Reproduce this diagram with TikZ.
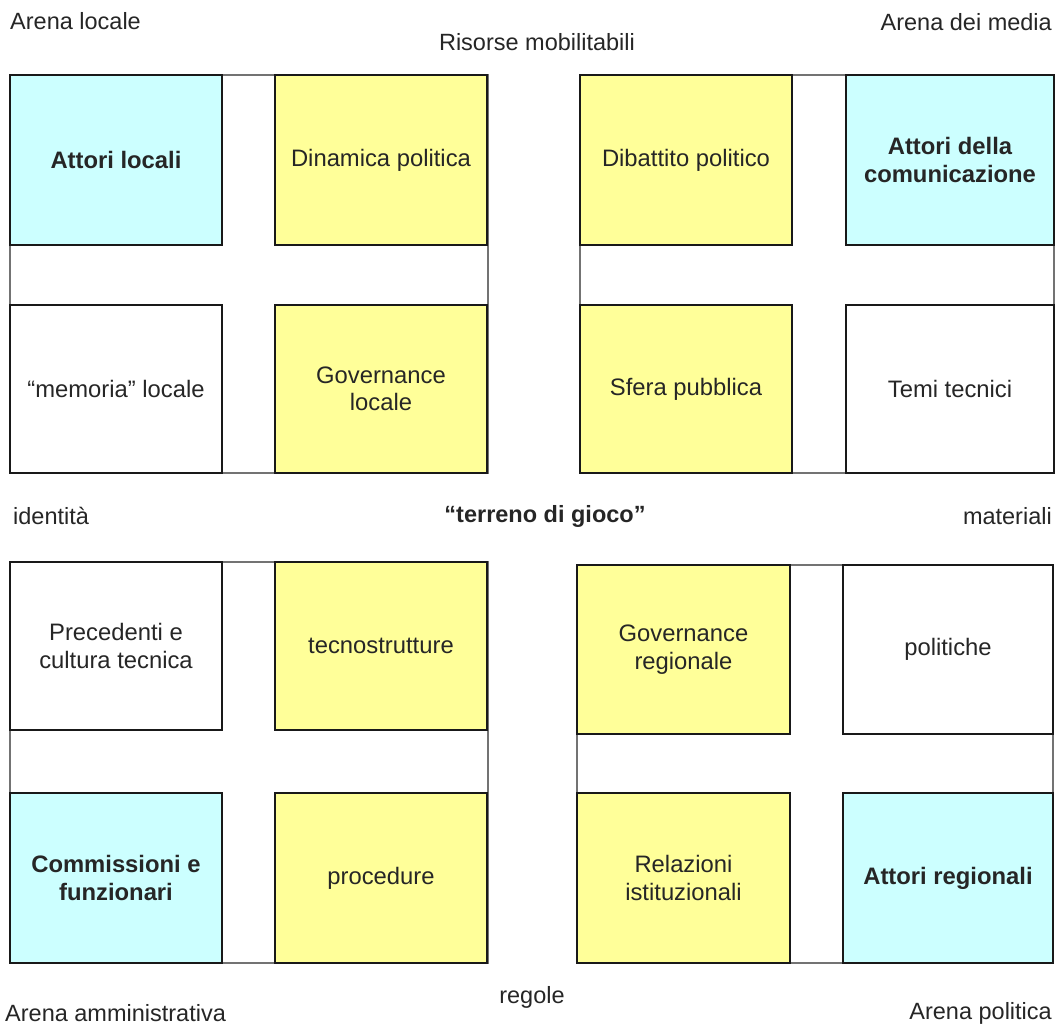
\documentclass[tikz,border=0pt]{standalone}
\usepackage{fontspec}
\setmainfont{Liberation Sans}
\definecolor{cyanbox}{HTML}{CCFFFF}
\definecolor{yellowbox}{HTML}{FFFF99}
\definecolor{txt}{HTML}{262626}
\begin{document}
\begin{tikzpicture}[x=1pt,y=-1pt,
  frame/.style={draw=black!55, line width=1.3pt, rectangle, inner sep=0pt},
  box/.style={draw=black!90, line width=2.8pt, rectangle, inner sep=0pt,
    minimum width=212pt, minimum height=170pt, align=center,
    font=\fontsize{23.8}{27.5}\selectfont, text=txt},
  actor/.style={box, fill=cyanbox, font=\fontsize{23.8}{27.5}\selectfont\bfseries},
  arena/.style={box, fill=yellowbox},
  plain/.style={box, fill=white},
  lbl/.style={inner sep=0pt, font=\fontsize{23.5}{28}\selectfont, text=txt}
]
\useasboundingbox (0,0) rectangle (1058,1027);
\fill[white] (0,0) rectangle (1058,1027);

% quadrant frames
\node[frame, minimum width=478pt, minimum height=398pt] (qa) at (249,274) {};
\node[frame, minimum width=474pt, minimum height=398pt] (qb) at (817,274) {};
\node[frame, minimum width=478pt, minimum height=401pt] (qc) at (249,762.5) {};
\node[frame, minimum width=476pt, minimum height=398pt] (qd) at (815,764) {};

% top-left quadrant
\node[actor] (a1) at (116,160) {Attori locali};
\node[arena] (a2) at (381,160) {Dinamica politica};
\node[plain, minimum height=168pt] (a3) at (116,389) {“memoria” locale};
\node[arena, minimum height=168pt] (a4) at (381,389) {Governance\\locale};

% top-right quadrant
\node[arena] (b1) at (686,160) {Dibattito politico};
\node[actor, minimum width=208pt] (b2) at (950,160) {Attori della\\comunicazione};
\node[arena, minimum height=168pt] (b3) at (686,389) {Sfera pubblica};
\node[plain, minimum width=208pt, minimum height=168pt] (b4) at (950,389) {Temi tecnici};

% bottom-left quadrant
\node[plain, minimum height=168pt] (c1) at (116,646) {Precedenti e\\cultura tecnica};
\node[arena, minimum height=168pt] (c2) at (381,646) {tecnostrutture};
\node[actor] (c3) at (116,878) {Commissioni e\\funzionari};
\node[arena] (c4) at (381,878) {procedure};

% bottom-right quadrant
\node[arena, minimum width=213pt, minimum height=169pt] (d1) at (683.5,649.5) {Governance\\regionale};
\node[plain, minimum width=210pt, minimum height=169pt] (d2) at (948,649.5) {politiche};
\node[arena, minimum width=213pt] (d3) at (683.5,878) {Relazioni\\istituzionali};
\node[actor, minimum width=210pt] (d4) at (948,878) {Attori regionali};

% labels
\node[lbl, anchor=west] (l1) at (10,21) {Arena locale};
\node[lbl] (l2) at (537,42) {Risorse mobilitabili};
\node[lbl, anchor=east] (l3) at (1052,22) {Arena dei media};
\node[lbl, anchor=west] (l4) at (13,516) {identità};
\node[lbl, font=\fontsize{23.5}{28}\selectfont\bfseries] (l5) at (545,516) {“terreno di gioco”};
\node[lbl, anchor=east] (l6) at (1052,516) {materiali};
\node[lbl, anchor=west] (l7) at (5,1013) {Arena amministrativa};
\node[lbl] (l8) at (532,997) {regole};
\node[lbl, anchor=east] (l9) at (1052,1013) {Arena politica};
\end{tikzpicture}
\end{document}
